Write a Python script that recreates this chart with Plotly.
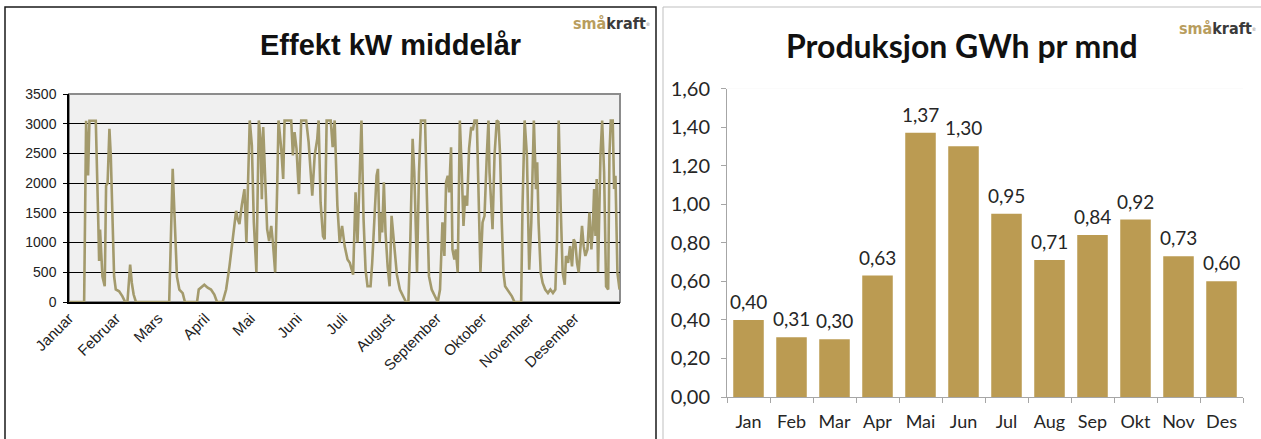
import plotly.graph_objects as go

# ---------- data: left chart (daily power, kW, mean year) ----------
days = [0, 10, 11.3, 12.6, 13.5, 17.7, 19.4, 19.9, 20.5, 22.1, 23.6, 24.5, 25.5, 26.7, 27.6, 28.7, 29.8, 30.9, 33.1, 35.3,
        37.1, 38.6, 40.4, 41.5, 42.7, 44.2, 66.2, 68.5, 69.6, 71.3, 72.9, 75.1, 76.6, 84.6, 85.7, 87.2, 89.4, 91.6, 93.8, 96,
        97.8, 101.5, 103.8, 106, 108.2, 110.4, 111.5, 112.6, 114.1, 115.9, 117.2, 118.5, 119.4, 120.8, 122.1, 123.8, 125.4,
        126.5, 127.4, 128.3, 129.6, 130.9, 132.2, 133.6, 134.7, 136.2, 137.5, 138.4, 140.2, 141.5, 142.4, 146.8, 147.9, 149,
        150.3, 151.9, 153.4, 156.7, 158.3, 160, 160.7, 162.3, 164, 164.9, 166.2, 167.8, 168.9, 170.2, 172.9, 174.2, 175.5,
        177.3, 178.8, 180.4, 182.1, 184, 185.5, 187.7, 189.3, 190.6, 191.9, 193.2, 194.6, 195.9, 197.2, 199.2, 200.3, 201.6,
        203.2, 204.1, 205.2, 206, 206.9, 208, 209.1, 210.5, 211.8, 213.1, 214.9, 216.6, 218.6, 220.8, 222.6, 224.2, 225.5,
        227, 228.1, 229.9, 231.2, 232.5, 235.2, 236.3, 237.8, 239.6, 241.8, 243.6, 245.1, 246.7, 248, 249.1, 250.2, 251.1,
        252.4, 253.3, 254.6, 255.5, 256.8, 258.2, 259.5, 260.6, 261.7, 263, 264.3, 265.7, 266.8, 267.9, 269.4, 270.5, 271.8,
        273.2, 274.5, 276, 277.1, 277.8, 278.9, 279.8, 281.1, 282.6, 283.7, 284.8, 285.9, 287, 288.1, 290.4, 292.6, 294.3,
        298.7, 299.6, 301, 302.5, 304, 305.4, 306.3, 307.1, 308.5, 309.3, 310.2, 311.6, 312.9, 314.6, 316.4, 318, 319.7,
        321.3, 322.4, 323.5, 324.8, 326.1, 327.5, 328.3, 329.7, 331, 332.3, 333.4, 334.5, 335.6, 336.7, 337.8, 338.9, 340,
        341.1, 342.5, 343.8, 345.1, 346, 346.9, 347.8, 348.6, 349.5, 351.1, 352.2, 353.5, 354.8, 356.2, 357, 357.9, 359.2,
        360.1, 361, 362.3, 363.7]
kw = [0, 0, 3050, 2130, 3050, 3050, 1280, 690, 1220, 430, 265, 1960, 2000, 2915, 2465, 1450, 430, 210, 180, 95,
      0, 0, 630, 320, 125, 0, 0, 2240, 1620, 430, 210, 150, 0, 0, 210, 240, 290, 240, 210, 125,
      0, 0, 210, 600, 1110, 1535, 1390, 1310, 1620, 1900, 1000, 2465, 3055, 2635, 1340, 500, 3055,
      2740, 1730, 2945, 2070, 1225, 1025, 1280, 1000, 500, 1900, 3055, 2580, 2070, 3055, 3055, 2465, 2860,
      2580, 1815, 3055, 3055, 2690, 1900, 1790, 2465, 2745, 3055, 1675, 1110, 1055, 3055, 3055, 2605, 3055,
      1620, 1000, 1280, 940, 715, 660, 460, 1845, 1000, 1900, 3055, 1390, 545, 265, 265, 660, 1450,
      2125, 2240, 1000, 1505, 1170, 2015, 1170, 600, 265, 1450, 940, 460, 210, 95, 0, 0, 1055,
      2745, 2180, 500, 2180, 3055, 3055, 1900, 435, 210, 95, 0, 210, 1340, 775, 2015, 2125, 1845,
      2605, 885, 715, 885, 500, 3055, 2180, 1280, 1790, 1620, 2580, 2945, 2890, 3055, 3055, 1900, 500,
      1340, 1450, 2465, 3055, 2180, 1730, 1225, 2465, 3055, 3030, 2465, 1340, 500, 265, 180, 95, 0,
      0, 1620, 3055, 2465, 545, 1340, 2180, 3055, 1900, 2350, 1340, 500, 320, 210, 150, 210, 150,
      210, 1055, 3055, 1620, 500, 290, 775, 660, 940, 600, 1055, 1000, 660, 500, 940, 1280, 940,
      775, 885, 1505, 885, 1225, 1900, 1110, 2070, 500, 2465, 3055, 2180, 265, 210, 2465, 3055, 3055,
      1900, 2125, 490, 210]
month_start_days = [0, 31, 59, 90, 120, 151, 181, 212, 243, 273, 304, 334]
month_names = ["Januar", "Februar", "Mars", "April", "Mai", "Juni", "Juli", "August",
               "September", "Oktober", "November", "Desember"]

# ---------- data: right chart (production GWh per month) ----------
months_short = ["Jan", "Feb", "Mar", "Apr", "Mai", "Jun", "Jul", "Aug", "Sep", "Okt", "Nov", "Des"]
gwh = [0.40, 0.31, 0.30, 0.63, 1.37, 1.30, 0.95, 0.71, 0.84, 0.92, 0.73, 0.60]
gwh_ticks = [0.0, 0.2, 0.4, 0.6, 0.8, 1.0, 1.2, 1.4, 1.6]

W, H = 1261, 439
def px(x):
    return x / W
def py(y):
    return 1 - y / H

LINE_COLOR = "#A39A6C"
BAR_COLOR = "#BB9B52"
GOLD = "#B89D5E"
CAL = "Lato, Carlito, Noto Sans, sans-serif"
ARI = "Arial, Liberation Sans, sans-serif"

fig = go.Figure()

fig.add_trace(go.Scatter(
    x=days, y=kw, mode="lines",
    line=dict(color=LINE_COLOR, width=2.6),
    xaxis="x", yaxis="y", showlegend=False, hoverinfo="x+y"))

fig.add_trace(go.Bar(
    x=months_short, y=gwh,
    marker=dict(color=BAR_COLOR, line=dict(width=0)),
    xaxis="x2", yaxis="y2", showlegend=False))

# value labels above bars
for m, v in zip(months_short, gwh):
    fig.add_annotation(x=m, y=v, xref="x2", yref="y2", text=f"{v:.2f}".replace(".", ","),
                       showarrow=False, xanchor="center", yanchor="bottom", yshift=5,
                       font=dict(family=CAL, size=19, color="#262626"))

fig.update_layout(
    width=W, height=H, autosize=False,
    margin=dict(l=0, r=0, t=0, b=0, pad=0, autoexpand=False),
    paper_bgcolor="white",
    plot_bgcolor="#F0F0F0",
    separators=",.",
    bargap=0.29,
    font=dict(family=ARI, color="#222222"),
    xaxis=dict(
        domain=[px(69), px(620)], range=[0, 364], automargin=False,
        tickvals=month_start_days, ticktext=month_names, tickangle=-45,
        tickfont=dict(family=ARI, size=15, color="#222222"),
        showgrid=False, zeroline=False, showline=True, linecolor="#000000", linewidth=1.5,
        ticks="", anchor="y"),
    yaxis=dict(
        domain=[py(302), py(94)], range=[0, 3500], dtick=500, automargin=False,
        tickfont=dict(family=ARI, size=14, color="#222222"),
        showgrid=True, gridcolor="#000000", gridwidth=1,
        zeroline=False, showline=True, linecolor="#000000", linewidth=1.5,
        ticks="outside", ticklen=4, tickcolor="#000000", ticklabelstandoff=4, anchor="x"),
    xaxis2=dict(
        domain=[px(727), px(1243)], type="category", automargin=False,
        tickfont=dict(family=CAL, size=18, color="#262626"),
        showgrid=False, zeroline=False, showline=True, linecolor="#A6A6A6", linewidth=1,
        ticks="outside", tickson="boundaries", ticklen=5, tickcolor="#A6A6A6",
        ticklabelstandoff=8, anchor="y2"),
    yaxis2=dict(
        domain=[py(397), py(88.5)], range=[0, 1.6], automargin=False,
        tickvals=gwh_ticks, tickformat=".2f",
        tickfont=dict(family=CAL, size=20, color="#262626"),
        showgrid=False, zeroline=False, showline=True, linecolor="#A6A6A6", linewidth=1,
        ticks="outside", ticklen=5, tickcolor="#A6A6A6", ticklabelstandoff=7, anchor="x2"),
)

# white background for the bar plot area (plot_bgcolor is shared)
fig.add_shape(type="rect", xref="x2 domain", yref="y2 domain", x0=0, x1=1, y0=0, y1=1,
              fillcolor="white", line=dict(width=0), layer="below")
# gray frame around the line plot area
fig.add_shape(type="rect", xref="x domain", yref="y domain", x0=0, x1=1, y0=0, y1=1,
              line=dict(color="#8C8C8C", width=2), layer="below")

# panel frames
fig.add_shape(type="rect", xref="paper", yref="paper",
              x0=px(5), x1=px(656), y0=py(445), y1=py(7),
              line=dict(color="#1A1A1A", width=1.5))
fig.add_shape(type="rect", xref="paper", yref="paper",
              x0=px(663), x1=px(1266), y0=py(445), y1=py(7),
              line=dict(color="#BFBFBF", width=1))

# titles
fig.add_annotation(text="<b>Effekt kW middelår</b>", xref="paper", yref="paper",
                   x=px(390), y=py(45), showarrow=False, xanchor="center", yanchor="middle",
                   font=dict(family=ARI, size=29, color="#111111"))
fig.add_annotation(text="<b>Produksjon GWh pr mnd</b>", xref="paper", yref="paper",
                   x=px(962), y=py(45), showarrow=False, xanchor="center", yanchor="middle",
                   font=dict(family=CAL, size=32, color="#111111"))

# logos
logo = (f"<b><span style='color:{GOLD}'>små</span>"
        f"<span style='color:#3A3A3A'>kraft</span></b>"
        f"<span style='color:#8C8C8C;font-size:7px'><sup>®</sup></span>")
for lx, ly in [(652, 23), (1258, 28)]:
    fig.add_annotation(text=logo, xref="paper", yref="paper",
                       x=px(lx), y=py(ly), showarrow=False, xanchor="right", yanchor="middle",
                       font=dict(family="Liberation Sans Narrow, DejaVu Sans Condensed, Arial Narrow, sans-serif",
                                 size=16))

fig.write_html("out.html", config={"displayModeBar": False},
               post_script="document.body.style.margin='0';document.body.style.padding='0';")
